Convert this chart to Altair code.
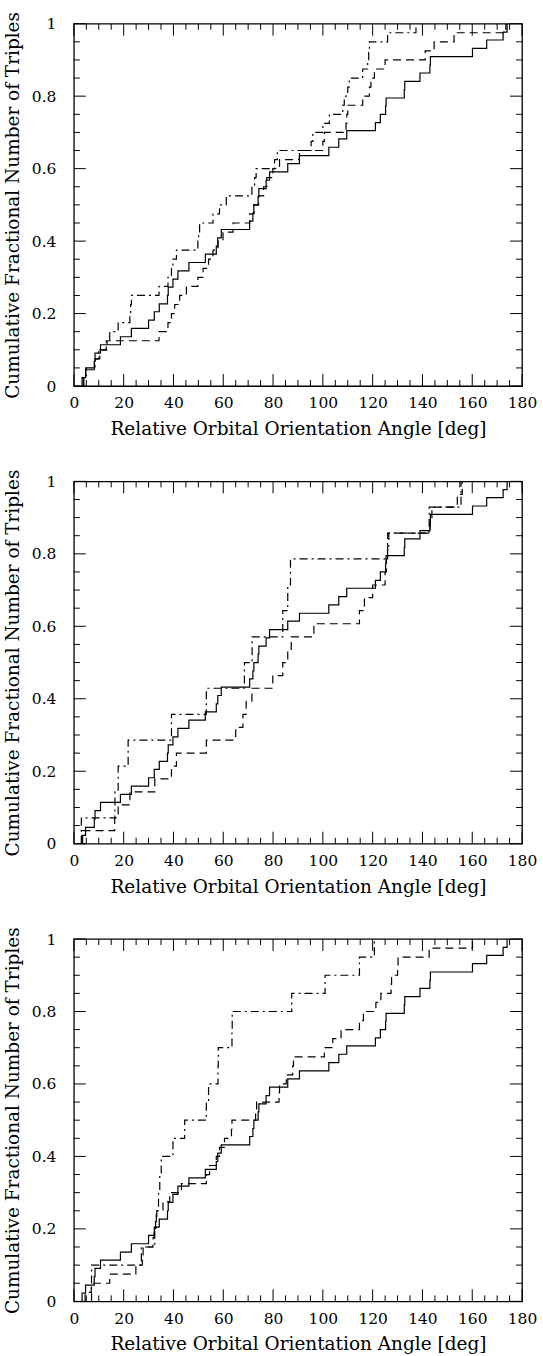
import altair as alt
import pandas as pd

# ---------------- data ----------------
# solid line: same observed distribution in all three panels (44 systems)
sol_x = [3.3, 4.7, 8.2, 8.5, 10.7, 18.7, 23.1, 30.0, 32.3, 34.3, 37.6, 37.9, 39.8, 41.8,
         46.2, 52.8, 57.2, 57.8, 59.2, 70.6, 71.9, 72.3, 74.0, 74.3, 77.2, 78.6, 85.9,
         90.6, 102.4, 106.4, 109.6, 121.1, 123.1, 125.2, 125.4, 132.7, 132.9, 139.0,
         143.0, 143.2, 160.1, 165.8, 172.4, 174.0]
sol_y = [0.023, 0.045, 0.068, 0.091, 0.114, 0.136, 0.159, 0.182, 0.205, 0.227, 0.25,
         0.273, 0.295, 0.318, 0.341, 0.364, 0.386, 0.409, 0.432, 0.455, 0.477, 0.5,
         0.523, 0.545, 0.568, 0.591, 0.614, 0.636, 0.659, 0.682, 0.705, 0.727, 0.75,
         0.773, 0.795, 0.818, 0.841, 0.864, 0.886, 0.909, 0.932, 0.955, 0.977, 1.0]

y40 = [0.025, 0.05, 0.075, 0.1, 0.125, 0.15, 0.175, 0.2, 0.225, 0.25, 0.275, 0.3,
       0.325, 0.35, 0.375, 0.4, 0.425, 0.45, 0.475, 0.5, 0.525, 0.55, 0.575, 0.6,
       0.625, 0.65, 0.675, 0.7, 0.725, 0.75, 0.775, 0.8, 0.825, 0.85, 0.875, 0.9,
       0.925, 0.95, 0.975, 1.0]

# panel 1
p1_dash_x = [3.8, 4.8, 8.3, 10.4, 13.3, 34.2, 37.8, 39.2, 40.5, 42.5, 45.2, 49.8,
             51.9, 54.1, 55.9, 57.9, 59.9, 63.9, 70.6, 72.3, 74.2, 76.2, 77.5, 79.9,
             82.6, 90.6, 100.0, 100.6, 109.3, 109.6, 110.0, 116.0, 118.7, 119.3,
             120.7, 125.0, 141.1, 144.7, 152.7, 173.5]
p1_dash_y = y40
p1_dd_x = [4.0, 5.0, 8.5, 10.0, 13.0, 14.4, 17.8, 22.5, 22.8, 23.1, 34.2, 37.8, 39.2,
           39.8, 41.2, 49.8, 50.1, 50.5, 55.9, 58.5, 61.2, 71.5, 72.6, 73.2, 80.6,
           81.7, 95.3, 96.0, 100.0, 102.6, 108.0, 108.6, 110.0, 110.6, 116.0, 118.0,
           118.4, 118.7, 126.0, 137.4]
p1_dd_y = y40

# panel 2
p2_dash_x = [3.5, 16.4, 17.8, 22.5, 32.5, 39.2, 41.2, 53.2, 65.0, 67.9, 69.2, 71.5,
             79.9, 83.9, 85.9, 87.3, 96.4, 114.7, 116.7, 120.0, 125.0, 125.5, 126.0,
             126.5, 143.1, 143.8, 154.0, 156.0]
p2_dash_y = [0.036, 0.071, 0.107, 0.143, 0.179, 0.214, 0.25, 0.286, 0.321, 0.357,
             0.393, 0.429, 0.464, 0.5, 0.536, 0.571, 0.607, 0.643, 0.679, 0.714, 0.75,
             0.786, 0.821, 0.857, 0.893, 0.929, 0.964, 1.0]
p2_dd_x = [3.0, 16.5, 17.8, 21.8, 39.2, 53.2, 68.5, 71.6, 83.9, 85.9, 87.0, 126.0,
           142.7, 155.5]
p2_dd_y = [0.071, 0.143, 0.214, 0.286, 0.357, 0.429, 0.5, 0.571, 0.643, 0.714, 0.786,
           0.857, 0.929, 1.0]

# panel 3
p3_dash_x = [4.5, 7.0, 14.4, 24.9, 27.5, 27.8, 31.8, 32.2, 32.8, 33.3, 35.8, 38.5,
             43.2, 53.2, 54.5, 57.2, 58.5, 60.5, 63.3, 63.5, 73.0, 73.4, 82.4, 82.6,
             85.3, 87.9, 88.2, 100.6, 104.0, 107.3, 114.7, 116.3, 121.3, 123.3,
             127.4, 127.6, 130.0, 130.2, 142.7, 160.1]
p3_dash_y = y40
p3_dd_x = [7.1, 7.1, 27.1, 32.5, 33.1, 34.0, 34.5, 35.1, 39.8, 44.5, 53.2, 54.1, 57.9,
           58.0, 63.5, 63.6, 87.5, 100.9, 114.7, 120.7]
p3_dd_y = [0.05, 0.1, 0.15, 0.2, 0.25, 0.3, 0.35, 0.4, 0.45, 0.5, 0.55, 0.6, 0.65,
           0.7, 0.75, 0.8, 0.85, 0.9, 0.95, 1.0]

x_major = [0, 20, 40, 60, 80, 100, 120, 140, 160, 180]
x_minor = [5, 10, 15, 25, 30, 35, 45, 50, 55, 65, 70, 75, 85, 90, 95, 105, 110, 115,
           125, 130, 135, 145, 150, 155, 165, 170, 175]
y_major = [0, 0.2, 0.4, 0.6, 0.8, 1.0]
y_minor = [0.05, 0.1, 0.15, 0.25, 0.3, 0.35, 0.45, 0.5, 0.55, 0.65, 0.7, 0.75, 0.85,
           0.9, 0.95]

X_TITLE = "Relative Orbital Orientation Angle [deg]"
Y_TITLE = "Cumulative Fractional Number of Triples"

# ---------------- styling ----------------
W, H = 449, 363
FONT = "DejaVu Serif"
MAJ, MIN = 12, 6
LW = 1.2
TFS = 18.5

xs = alt.Scale(domain=[0, 180], nice=False, zero=False)
ys = alt.Scale(domain=[0, 1], nice=False, zero=False)

x_axis = alt.Axis(values=x_major, title=X_TITLE, ticks=False, tickSize=0, domain=False,
                  grid=False, labelFont=FONT, labelFontSize=15.5, labelPadding=10,
                  labelColor="black", labelFlush=False, labelOverlap=False,
                  titleFont=FONT, titleFontSize=TFS, titleFontWeight="normal",
                  titleColor="black", titlePadding=8)
y_axis = alt.Axis(values=y_major, title=Y_TITLE, format=".1~f", ticks=False, tickSize=0,
                  domain=False, grid=False, labelFont=FONT, labelFontSize=15.5,
                  labelPadding=18, labelColor="black", labelFlush=False,
                  labelOverlap=False, titleFont=FONT, titleFontSize=TFS,
                  titleFontWeight="normal", titleColor="black", titlePadding=9)


def series(xv, yv, dash=None):
    px = [xv[0]] + list(xv)
    py = [0.0] + list(yv)
    d = pd.DataFrame({"x": px, "y": py, "o": list(range(len(px)))})
    kw = dict(interpolate="step-after", color="black", strokeWidth=LW, clip=True)
    if dash is not None:
        kw["strokeDash"] = dash
    return alt.Chart(d).mark_line(**kw).encode(
        x=alt.X("x:Q", scale=xs, axis=x_axis),
        y=alt.Y("y:Q", scale=ys, axis=y_axis),
        order="o:Q",
    )


def tick_layers():
    out = []
    for vals, L in [(x_major, MAJ), (x_minor, MIN)]:
        base = alt.Chart(pd.DataFrame({"x": vals})).mark_rule(color="black", strokeWidth=1)
        xe = alt.X("x:Q", scale=xs, axis=x_axis)
        out.append(base.encode(x=xe, y=alt.value(H), y2=alt.value(H - L)))
        out.append(base.encode(x=xe, y=alt.value(0), y2=alt.value(L)))
    for vals, L in [(y_major, MAJ), (y_minor, MIN)]:
        base = alt.Chart(pd.DataFrame({"y": vals})).mark_rule(color="black", strokeWidth=1)
        ye = alt.Y("y:Q", scale=ys, axis=y_axis)
        out.append(base.encode(y=ye, x=alt.value(0), x2=alt.value(L)))
        out.append(base.encode(y=ye, x=alt.value(W), x2=alt.value(W - L)))
    return out


def panel(dx, dy, ddx, ddy):
    layers = [series(sol_x, sol_y, None),
              series(dx, dy, [8, 5]),
              series(ddx, ddy, [8, 4, 2, 4])] + tick_layers()
    return alt.layer(*layers).properties(width=W, height=H)


chart = alt.vconcat(
    panel(p1_dash_x, p1_dash_y, p1_dd_x, p1_dd_y),
    panel(p2_dash_x, p2_dash_y, p2_dd_x, p2_dd_y),
    panel(p3_dash_x, p3_dash_y, p3_dd_x, p3_dd_y),
    spacing=28.5,
).properties(
    padding={"left": 2, "top": 8.5, "right": 5, "bottom": 0},
    background="white",
).configure_view(stroke="black", strokeWidth=1.3)

chart.save("out.html", embed_options={"renderer": "svg", "actions": False})
